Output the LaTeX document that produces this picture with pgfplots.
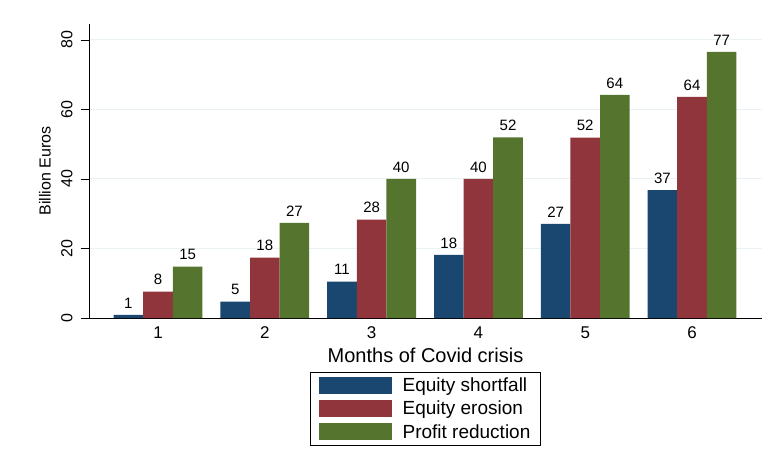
\documentclass[border=0pt]{standalone}
\usepackage{pgfplots}
\pgfplotsset{compat=1.18}
\usepackage{fontspec}
\setmainfont{Liberation Sans}
\definecolor{snavy}{RGB}{26,71,111}
\definecolor{smaroon}{RGB}{144,53,59}
\definecolor{sgreen}{RGB}{85,117,47}
\definecolor{sgrid}{RGB}{234,242,243}
\begin{document}
\begin{tikzpicture}
\begin{axis}[
  name=ax,
  scale only axis,
  width=673pt, height=294pt,
  xmin=0.354, xmax=6.655,
  ymin=0, ymax=84.6,
  axis x line*=bottom,
  axis y line*=left,
  axis line style={line width=0.8pt, black},
  xtick={1,2,3,4,5,6},
  ytick={0,20,40,60,80},
  xtick style={draw=none},
  ytick style={line width=0.8pt, black},
  tick align=outside,
  major tick length=8pt,
  ymajorgrids,
  grid style={sgrid, line width=1pt},
  /pgf/number format/assume math mode=true,
  xticklabel style={font=\fontsize{17}{17}\selectfont, anchor=center, yshift=-7pt},
  yticklabel style={font=\fontsize{16}{16}\selectfont, rotate=90, anchor=south, yshift=5pt},
  xlabel={Months of Covid crisis},
  ylabel={Billion Euros},
  xlabel style={font=\fontsize{20}{20}\selectfont, at={(axis description cs:0.5,0)}, anchor=center, yshift=-37pt},
  ylabel style={font=\fontsize{16}{16}\selectfont, at={(axis description cs:0,0.5)}, anchor=center, yshift=44pt},
  ybar,
  bar width=29.6pt,
  point meta=explicit,
  nodes near coords={\pgfmathprintnumber{\pgfplotspointmeta}},
  nodes near coords style={font=\fontsize{15}{15}\selectfont, black, anchor=south, yshift=3pt},
  legend style={
    at={(axis description cs:0.5,0)}, anchor=north, yshift=-54pt,
    draw=black, line width=0.6pt,
    font=\fontsize{19}{19}\selectfont,
    inner xsep=8pt, inner ysep=3.5pt,
    row sep=4pt,
    cells={anchor=west},
    /tikz/every odd column/.append style={column sep=9pt},
  },
  legend cell align=left,
  clip=false,
]
\addplot[draw=none, fill=snavy, bar shift=-29.6pt,
  legend image code/.code={\fill[snavy] (0pt,-8.5pt) rectangle (73pt,8.5pt);}]
  coordinates {(1,0.9) [1] (2,4.7) [5] (3,10.5) [11] (4,18.2) [18] (5,27.1) [27] (6,36.8) [37]};
\addplot[draw=none, fill=smaroon, bar shift=0pt,
  legend image code/.code={\fill[smaroon] (0pt,-8.5pt) rectangle (73pt,8.5pt);}]
  coordinates {(1,7.6) [8] (2,17.4) [18] (3,28.3) [28] (4,40.0) [40] (5,51.9) [52] (6,63.6) [64]};
\addplot[draw=none, fill=sgreen, bar shift=29.6pt,
  legend image code/.code={\fill[sgreen] (0pt,-8.5pt) rectangle (73pt,8.5pt);}]
  coordinates {(1,14.8) [15] (2,27.4) [27] (3,40.0) [40] (4,52.0) [52] (5,64.2) [64] (6,76.6) [77]};
\legend{Equity shortfall, Equity erosion, Profit reduction}
\end{axis}
\pgfresetboundingbox
\path[use as bounding box] ([shift={(-89pt,-146pt)}]ax.south west) rectangle ([shift={(4pt,24pt)}]ax.north east);
\end{tikzpicture}
\end{document}
